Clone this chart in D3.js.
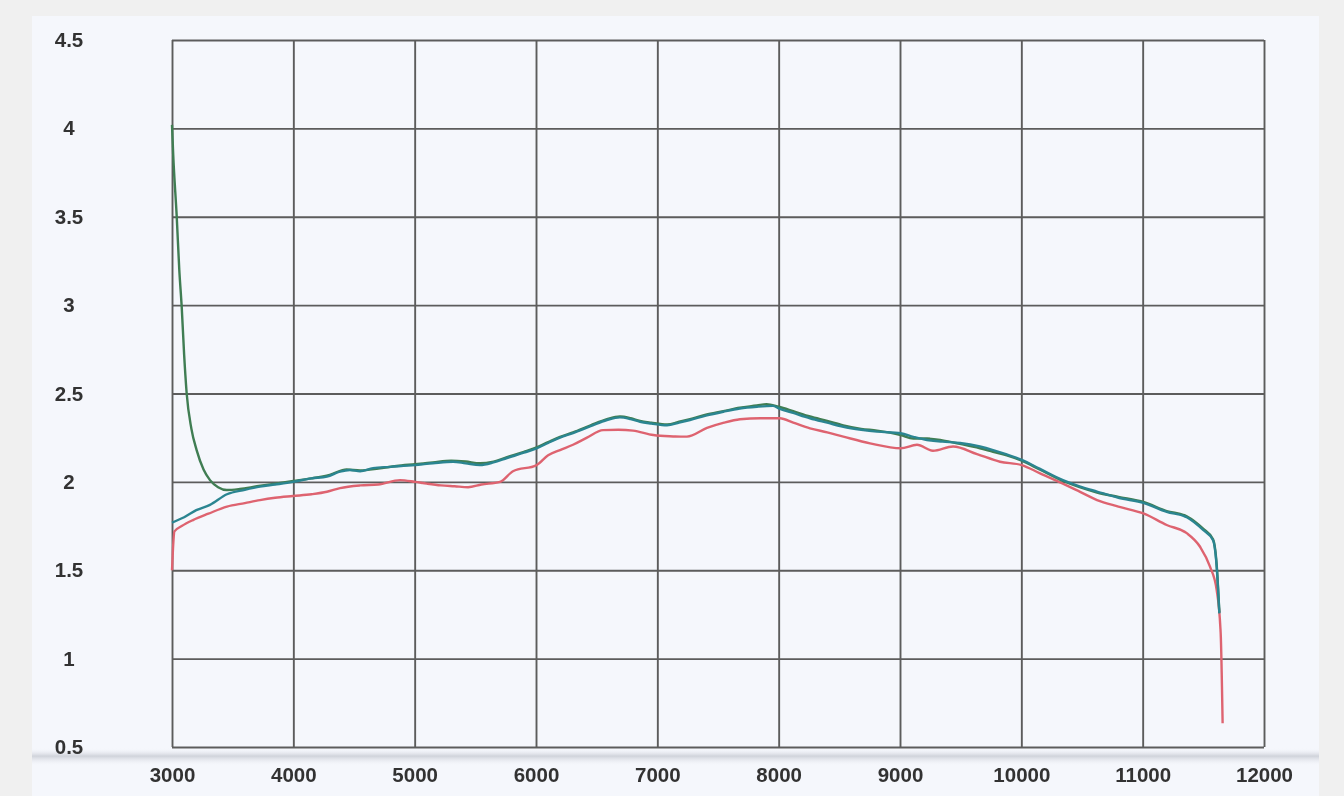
<!DOCTYPE html>
<html>
<head>
<meta charset="utf-8">
<script src="https://d3js.org/d3.v7.min.js"></script>
<style>
  body { margin: 0; background: #f0f0f0; }
  svg { display: block; }
  .tick text { font-family: "Liberation Sans", Arial, sans-serif; font-weight: bold; font-size: 20.5px; fill: #333; }
</style>
</head>
<body>
<div id="chart"></div>
<script>
// x ticks / y ticks
var xTicks = [3000, 4000, 5000, 6000, 7000, 8000, 9000, 10000, 11000, 12000];
var yTicks = [0.5, 1, 1.5, 2, 2.5, 3, 3.5, 4, 4.5];

// [x, y]
var greenPts = [
  [3000,4.02],[3010,3.85],[3039,3.5],[3060,3.2],[3080,2.99],[3100,2.72],[3121,2.5],[3160,2.3],
  [3203,2.18],[3260,2.07],[3313,2.01],[3380,1.97],[3451,1.954],[3560,1.96],[3700,1.975],
  [3850,1.99],[4000,2.005],[4150,2.02],[4300,2.04],[4440,2.07],[4550,2.065],[4700,2.075],
  [4850,2.09],[5003,2.1],[5150,2.11],[5300,2.12],[5420,2.115],[5538,2.105],[5650,2.115],
  [5761,2.14],[5900,2.17],[6005,2.195],[6100,2.225],[6198,2.255],[6305,2.28],[6450,2.32],
  [6585,2.355],[6692,2.37],[6780,2.36],[6857,2.345],[6950,2.335],[7080,2.325],[7180,2.34],
  [7269,2.355],[7400,2.38],[7544,2.4],[7680,2.42],[7821,2.432],[7900,2.44],[8000,2.425],
  [8120,2.4],[8258,2.37],[8400,2.345],[8533,2.32],[8680,2.3],[8810,2.29],[9006,2.265],
  [9110,2.245],[9223,2.245],[9350,2.235],[9495,2.215],[9659,2.19],[9767,2.17],[9880,2.15],
  [10003,2.12],[10150,2.07],[10343,2.005],[10480,1.97],[10624,1.94],[10800,1.915],[11011,1.885],
  [11198,1.835],[11363,1.805],[11498,1.735],[11580,1.675],[11610,1.53],[11632,1.26]
];
var bluePts = [
  [3000,1.77],[3100,1.8],[3200,1.84],[3313,1.87],[3453,1.93],[3600,1.955],[3725,1.973],
  [3850,1.985],[3997,2.0],[4150,2.02],[4277,2.03],[4385,2.058],[4467,2.067],[4550,2.06],
  [4657,2.078],[4800,2.085],[5003,2.095],[5150,2.105],[5316,2.114],[5420,2.105],[5538,2.095],
  [5650,2.11],[5761,2.135],[5900,2.165],[6005,2.19],[6100,2.22],[6198,2.25],[6305,2.276],
  [6450,2.315],[6585,2.35],[6692,2.365],[6780,2.355],[6857,2.34],[6950,2.33],[7080,2.32],
  [7180,2.335],[7269,2.35],[7400,2.375],[7544,2.397],[7680,2.415],[7821,2.425],[7953,2.43],
  [8000,2.416],[8120,2.39],[8258,2.36],[8400,2.335],[8533,2.312],[8680,2.295],[8810,2.284],
  [9006,2.275],[9110,2.255],[9223,2.237],[9350,2.228],[9495,2.22],[9659,2.2],[9767,2.18],
  [9880,2.155],[10003,2.124],[10150,2.075],[10343,2.01],[10480,1.975],[10624,1.945],[10800,1.91],
  [11011,1.88],[11198,1.83],[11363,1.8],[11498,1.728],[11580,1.67],[11610,1.52],[11632,1.256]
];
var redPts = [
  [3000,1.5],[3008,1.62],[3020,1.72],[3080,1.75],[3173,1.784],[3300,1.82],[3453,1.86],
  [3600,1.88],[3725,1.897],[3850,1.91],[3997,1.92],[4150,1.93],[4277,1.944],[4385,1.965],
  [4550,1.98],[4700,1.985],[4880,2.01],[5003,2.0],[5100,1.99],[5217,1.98],[5330,1.975],
  [5440,1.97],[5550,1.985],[5703,2.0],[5810,2.06],[6005,2.095],[6100,2.15],[6198,2.18],
  [6305,2.21],[6420,2.25],[6552,2.293],[6680,2.295],[6800,2.29],[6967,2.265],[7100,2.258],
  [7244,2.256],[7409,2.305],[7550,2.335],[7681,2.354],[7850,2.36],[8011,2.36],[8120,2.335],
  [8258,2.303],[8400,2.28],[8533,2.256],[8753,2.218],[9006,2.19],[9140,2.21],[9272,2.176],
  [9437,2.2],[9635,2.157],[9824,2.114],[10003,2.095],[10150,2.05],[10343,1.99],[10480,1.945],
  [10624,1.897],[10800,1.86],[11011,1.82],[11198,1.756],[11363,1.71],[11473,1.633],[11555,1.52],
  [11610,1.388],[11643,1.143],[11659,0.634]
];

var W = 1344, H = 796;
var svg = d3.select("#chart").append("svg").attr("width", W).attr("height", H);

var defs = svg.append("defs");
defs.append("filter").attr("id", "scan")
  .append("feGaussianBlur").attr("stdDeviation", 0.6);
var fold = defs.append("linearGradient").attr("id", "fold")
  .attr("x1", 0).attr("y1", 0).attr("x2", 0).attr("y2", 1);
fold.append("stop").attr("offset", "0%").attr("stop-color", "#f5f7fc").attr("stop-opacity", 0);
fold.append("stop").attr("offset", "45%").attr("stop-color", "#c9ccd4").attr("stop-opacity", 0.85);
fold.append("stop").attr("offset", "100%").attr("stop-color", "#f5f7fc").attr("stop-opacity", 0);

// paper
svg.append("rect").attr("width", W).attr("height", H).attr("fill", "#f0f0f0");
svg.append("rect").attr("x", 32).attr("y", 16).attr("width", 1287).attr("height", 780).attr("fill", "#f5f7fc");
svg.append("rect").attr("x", 32).attr("y", 748).attr("width", 1287).attr("height", 18)
  .attr("fill", "url(#fold)");

var x = d3.scaleLinear().domain([3000, 12000]).range([172, 1264]);
var y = d3.scaleLinear().domain([0.5, 4.5]).range([747, 40]);

var g = svg.append("g").attr("filter", "url(#scan)");

// grid + labels
g.append("g")
  .attr("transform", "translate(0,747)")
  .call(d3.axisBottom(x).tickValues(xTicks).tickSize(-707).tickPadding(20).tickFormat(d3.format("d")))
  .call(function(a) {
    a.select(".domain").remove();
    a.selectAll("line").attr("stroke", "#5c5c5c").attr("stroke-width", 1.9);
  });

g.append("g")
  .attr("transform", "translate(172,0)")
  .call(d3.axisLeft(y).tickValues(yTicks).tickSize(-1092).tickFormat(function(d) { return d; }))
  .call(function(a) {
    a.select(".domain").remove();
    a.selectAll("line").attr("stroke", "#5c5c5c").attr("stroke-width", 1.9);
    a.selectAll("text").attr("text-anchor", "middle").attr("x", -103);
  });

var line = d3.line()
  .x(function(d) { return x(d[0]); })
  .y(function(d) { return y(d[1]); })
  .curve(d3.curveMonotoneX);

g.append("path").datum(redPts).attr("d", line)
  .attr("fill", "none").attr("stroke", "#de6470").attr("stroke-width", 2.4);
g.append("path").datum(greenPts).attr("d", line)
  .attr("fill", "none").attr("stroke", "#3f7d52").attr("stroke-width", 2.4);
g.append("path").datum(bluePts).attr("d", line)
  .attr("fill", "none").attr("stroke", "#2c8591").attr("stroke-width", 2.4);
</script>
</body>
</html>
